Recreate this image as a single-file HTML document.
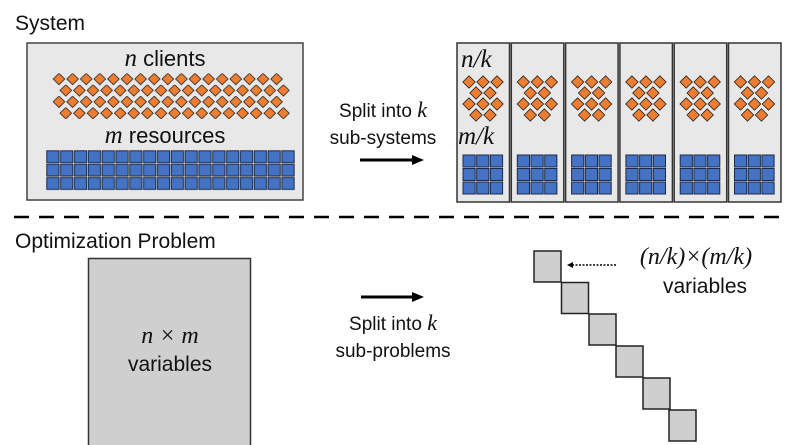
<!DOCTYPE html>
<html><head><meta charset="utf-8"><style>
html,body{margin:0;padding:0;background:#fff;}
svg{display:block;}
text{font-family:"Liberation Sans",sans-serif;fill:#111;}
.m{font-family:"Liberation Serif",serif;font-style:italic;}
</style></head><body>
<svg width="789" height="445" viewBox="0 0 789 445" xmlns="http://www.w3.org/2000/svg">
<defs>
<pattern id="pd1" patternUnits="userSpaceOnUse" x="52.2" y="73.3" width="13.6" height="22.8">
<path d="M6.8 0 L12.6 5.7 L6.8 11.4 L1 5.7 Z" fill="#ED7D31" stroke="#222" stroke-width="0.8"/>
</pattern>
<pattern id="pd2" patternUnits="userSpaceOnUse" x="59" y="84.7" width="13.6" height="22.8">
<path d="M6.8 0 L12.6 5.7 L6.8 11.4 L1 5.7 Z" fill="#ED7D31" stroke="#222" stroke-width="0.8"/>
</pattern>
<pattern id="ps" patternUnits="userSpaceOnUse" x="46" y="150" width="13.83" height="13.4">
<rect x="0.8" y="0.8" width="12.2" height="11.8" fill="#4472C4" stroke="#1e2a44" stroke-width="1"/>
</pattern>
<path id="d" d="M0 -6.2 L6.2 0 L0 6.2 L-6.2 0 Z" fill="#ED7D31" stroke="#222" stroke-width="0.8"/>
<g id="sub">
<rect x="0" y="0" width="52.5" height="159" fill="#e8e8e8" stroke="#333" stroke-width="1.5"/>
<use href="#d" x="12" y="39"/><use href="#d" x="26" y="39"/><use href="#d" x="40" y="39"/>
<use href="#d" x="19" y="50"/><use href="#d" x="33" y="50"/>
<use href="#d" x="12" y="61"/><use href="#d" x="26" y="61"/><use href="#d" x="40" y="61"/>
<use href="#d" x="19" y="72"/><use href="#d" x="33" y="72"/>
<g fill="#4472C4" stroke="#1e2a44" stroke-width="1">
<rect x="6" y="112" width="12.2" height="12"/><rect x="19.7" y="112" width="12.2" height="12"/><rect x="33.4" y="112" width="12.2" height="12"/>
<rect x="6" y="125.5" width="12.2" height="12"/><rect x="19.7" y="125.5" width="12.2" height="12"/><rect x="33.4" y="125.5" width="12.2" height="12"/>
<rect x="6" y="139" width="12.2" height="12"/><rect x="19.7" y="139" width="12.2" height="12"/><rect x="33.4" y="139" width="12.2" height="12"/>
</g>
</g>
<g id="sq"><rect width="27" height="31" fill="#d0cfd0" stroke="#222" stroke-width="1.5"/></g>
</defs>

<text x="15" y="30" font-size="21">System</text>
<rect x="27" y="43" width="276" height="157" fill="#e8e8e8" stroke="#444" stroke-width="1.5"/>
<text x="165" y="66" font-size="22" text-anchor="middle"><tspan class="m" font-size="25">n</tspan> clients</text>
<rect x="52.2" y="73.3" width="231.2" height="45.6" fill="url(#pd1)"/>
<rect x="59" y="84.7" width="231.2" height="34.2" fill="url(#pd2)"/>
<text x="165" y="143" font-size="22" text-anchor="middle"><tspan class="m" font-size="25">m</tspan> resources</text>
<rect x="46" y="150" width="249" height="40.2" fill="url(#ps)"/>

<text x="383" y="117" font-size="19" text-anchor="middle">Split into <tspan class="m" font-size="22">k</tspan></text>
<text x="383" y="144" font-size="19" text-anchor="middle">sub-systems</text>
<line x1="360" y1="160" x2="414" y2="160" stroke="#000" stroke-width="3"/>
<path d="M412 155 L424 160 L412 165 Z" fill="#000"/>

<use href="#sub" x="457" y="43"/>
<use href="#sub" x="511.3" y="43"/>
<use href="#sub" x="565.6" y="43"/>
<use href="#sub" x="619.9" y="43"/>
<use href="#sub" x="674.2" y="43"/>
<use href="#sub" x="728.5" y="43"/>
<text x="461" y="67" font-size="25" class="m">n/k</text>
<text x="458" y="144" font-size="25" class="m">m/k</text>

<line x1="14" y1="217" x2="789" y2="217" stroke="#000" stroke-width="2.5" stroke-dasharray="15,10"/>

<text x="15" y="248" font-size="21">Optimization Problem</text>
<rect x="88.5" y="258.5" width="162" height="190" fill="#d0cfd0" stroke="#333" stroke-width="1.5"/>
<text x="170" y="343" font-size="24" text-anchor="middle" class="m">n × m</text>
<text x="170" y="371" font-size="21" text-anchor="middle">variables</text>

<line x1="361" y1="297" x2="414" y2="297" stroke="#000" stroke-width="3"/>
<path d="M412 292 L424 297 L412 302 Z" fill="#000"/>
<text x="393" y="330" font-size="19" text-anchor="middle">Split into <tspan class="m" font-size="22">k</tspan></text>
<text x="393" y="357" font-size="19" text-anchor="middle">sub-problems</text>

<use href="#sq" x="534" y="251"/>
<use href="#sq" x="561.5" y="282.5"/>
<use href="#sq" x="589" y="314"/>
<use href="#sq" x="616" y="346"/>
<use href="#sq" x="643" y="378"/>
<use href="#sq" x="669" y="410"/>

<line x1="572" y1="265" x2="617" y2="265" stroke="#000" stroke-width="1.5" stroke-dasharray="2,1.5"/>
<path d="M567 265 L573 262 L573 268 Z" fill="#000"/>
<text x="696" y="264" font-size="24" text-anchor="middle" class="m">(n/k)×(m/k)</text>
<text x="705" y="293" font-size="21" text-anchor="middle">variables</text>
</svg>
</body></html>
